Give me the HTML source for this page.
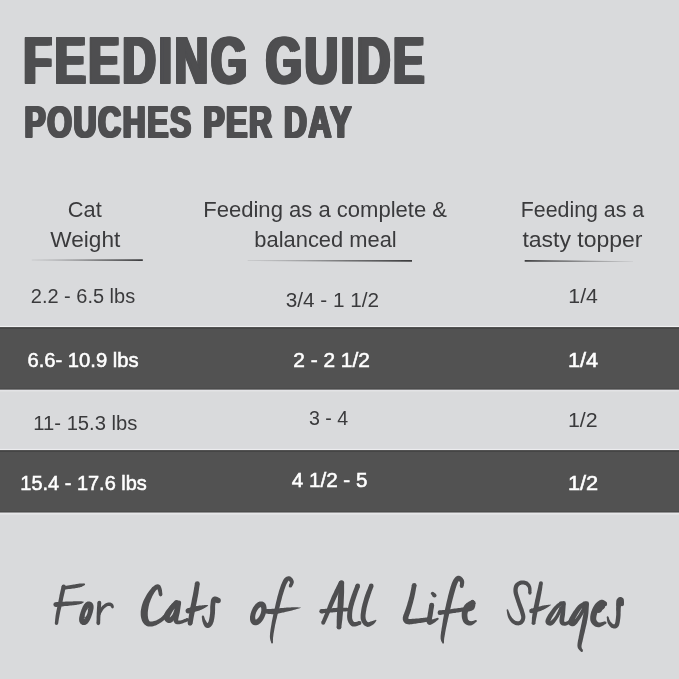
<!DOCTYPE html>
<html>
<head>
<meta charset="utf-8">
<title>Feeding Guide</title>
<style>
html,body{margin:0;padding:0;background:#d9dadc;}
body{width:679px;height:679px;overflow:hidden;font-family:"Liberation Sans",sans-serif;}
svg{display:block;}
text{font-family:"Liberation Sans",sans-serif;}
.t{fill:#3a3a3c;}.t.bd{fill:#4e4e50;}
.w{fill:#ffffff;stroke:#ffffff;stroke-width:0.55px;}
.bd{font-weight:bold;}
</style>
</head>
<body>
<svg width="679" height="679" viewBox="0 0 679 679" style="will-change:transform">
<defs>
<linearGradient id="gL" x1="0" x2="1" y1="0" y2="0"><stop offset="0" stop-color="#444446" stop-opacity="0.2"/><stop offset="0.6" stop-color="#444446" stop-opacity="0.85"/><stop offset="1" stop-color="#3c3c3e" stop-opacity="1"/></linearGradient>
<linearGradient id="gR" x1="0" x2="1" y1="0" y2="0"><stop offset="0" stop-color="#3c3c3e" stop-opacity="1"/><stop offset="0.4" stop-color="#444446" stop-opacity="0.8"/><stop offset="1" stop-color="#444446" stop-opacity="0.12"/></linearGradient>
</defs>
<rect x="0" y="325.9" width="679" height="1.4" fill="#efeff0"/>
<rect x="0" y="327.3" width="679" height="62.4" fill="#525252"/>
<rect x="0" y="327.3" width="679" height="1.4" fill="#404040"/>
<rect x="0" y="388.7" width="679" height="1.0" fill="#404040"/>
<rect x="0" y="389.7" width="679" height="1.1" fill="#e8e8ea"/>
<rect x="0" y="390.8" width="679" height="1.0" fill="#dfe0e2"/>
<rect x="0" y="448.9" width="679" height="1.4" fill="#ececee"/>
<rect x="0" y="450.3" width="679" height="62.3" fill="#525252"/>
<rect x="0" y="450.3" width="679" height="1.4" fill="#404040"/>
<rect x="0" y="511.6" width="679" height="1.0" fill="#404040"/>
<rect x="0" y="512.6" width="679" height="1.3" fill="#e8e8ea"/>
<rect x="0" y="513.9" width="679" height="1.2" fill="#e0e1e3"/>
<polygon points="31.8,259.8 142.8,259.2 142.8,260.9 31.8,260.3" fill="url(#gL)"/>
<polygon points="247.7,260.5 412,259.9 412,261.8 247.7,261.0" fill="url(#gL)"/>
<polygon points="524.7,260.0 633,261.2 633,261.7 524.7,261.7" fill="url(#gR)"/>
<text class="t bd" font-size="66.23" letter-spacing="4.350" transform="translate(21.81 83.10) scale(0.6970 1)">FEEDING GUIDE</text>
<text class="t bd" font-size="66.23" letter-spacing="4.350" transform="translate(21.81 84.40) scale(0.6970 1)">FEEDING GUIDE</text>
<text class="t bd" font-size="66.23" letter-spacing="4.350" transform="translate(23.61 83.10) scale(0.6970 1)">FEEDING GUIDE</text>
<text class="t bd" font-size="66.23" letter-spacing="4.350" transform="translate(23.61 84.40) scale(0.6970 1)">FEEDING GUIDE</text>
<text class="t bd" font-size="66.23" letter-spacing="4.350" transform="translate(25.41 83.10) scale(0.6970 1)">FEEDING GUIDE</text>
<text class="t bd" font-size="66.23" letter-spacing="4.350" transform="translate(25.41 84.40) scale(0.6970 1)">FEEDING GUIDE</text>
<text class="t bd" font-size="43.77" letter-spacing="2.332" transform="translate(23.15 137.10) scale(0.7238 1)">POUCHES PER DAY</text>
<text class="t bd" font-size="43.77" letter-spacing="2.332" transform="translate(23.15 137.90) scale(0.7238 1)">POUCHES PER DAY</text>
<text class="t bd" font-size="43.77" letter-spacing="2.332" transform="translate(24.45 137.10) scale(0.7238 1)">POUCHES PER DAY</text>
<text class="t bd" font-size="43.77" letter-spacing="2.332" transform="translate(24.45 137.90) scale(0.7238 1)">POUCHES PER DAY</text>
<text class="t bd" font-size="43.77" letter-spacing="2.332" transform="translate(25.75 137.10) scale(0.7238 1)">POUCHES PER DAY</text>
<text class="t bd" font-size="43.77" letter-spacing="2.332" transform="translate(25.75 137.90) scale(0.7238 1)">POUCHES PER DAY</text>
<text class="t" font-size="21.16" transform="translate(67.87 217.00) scale(1.0305 1)">Cat</text>
<text class="t" font-size="21.16" transform="translate(50.30 247.20) scale(1.0696 1)">Weight</text>
<text class="t" font-size="21.16" transform="translate(203.26 217.00) scale(1.0419 1)">Feeding as a complete &amp;</text>
<text class="t" font-size="21.16" transform="translate(254.37 247.20) scale(1.0345 1)">balanced meal</text>
<text class="t" font-size="21.16" transform="translate(520.79 217.00) scale(1.0093 1)">Feeding as a</text>
<text class="t" font-size="21.16" transform="translate(522.40 247.20) scale(1.0867 1)">tasty topper</text>
<text class="t" font-size="20.43" transform="translate(30.82 303.40) scale(0.9782 1)">2.2 - 6.5 lbs</text>
<text class="t" font-size="20.43" transform="translate(285.70 307.10) scale(1.0164 1)">3/4 - 1 1/2</text>
<text class="t" font-size="20.43" transform="translate(568.36 303.40) scale(1.0432 1)">1/4</text>
<text class="w" font-size="20.43" transform="translate(27.41 366.80) scale(0.9894 1)">6.6- 10.9 lbs</text>
<text class="w" font-size="20.43" transform="translate(293.28 366.80) scale(1.0222 1)">2 - 2 1/2</text>
<text class="w" font-size="20.43" transform="translate(567.93 366.80) scale(1.0654 1)">1/4</text>
<text class="t" font-size="20.43" transform="translate(33.31 429.70) scale(0.9895 1)">11- 15.3 lbs</text>
<text class="t" font-size="20.43" transform="translate(308.90 425.20) scale(0.9604 1)">3 - 4</text>
<text class="t" font-size="20.43" transform="translate(567.95 426.90) scale(1.0469 1)">1/2</text>
<text class="w" font-size="20.43" transform="translate(20.32 489.80) scale(0.9781 1)">15.4 - 17.6 lbs</text>
<text class="w" font-size="20.43" transform="translate(291.70 487.00) scale(1.0111 1)">4 1/2 - 5</text>
<text class="w" font-size="20.43" transform="translate(567.93 489.80) scale(1.0654 1)">1/2</text>
<g fill="#4e4e50">
<path d="M61.6,586.3 61.4,586.9 61.3,587.6 61.1,588.5 60.8,589.4 60.6,590.5 60.3,591.7 60.1,592.8 59.8,594.0 59.5,595.3 59.3,596.7 59.0,598.2 58.7,599.7 58.4,601.2 58.1,602.7 57.8,604.1 57.5,605.4 57.3,606.6 57.1,607.7 56.9,608.7 56.7,609.7 56.5,610.6 56.3,611.6 56.1,612.7 55.9,613.7 55.7,615.0 55.5,616.3 55.4,617.6 55.2,619.0 55.1,620.3 55.0,621.4 54.9,622.4 54.8,623.1 58.1,623.6 58.3,622.9 58.4,621.9 58.6,620.8 58.8,619.5 59.0,618.2 59.3,616.8 59.5,615.6 59.7,614.4 59.9,613.4 60.1,612.4 60.3,611.5 60.5,610.5 60.8,609.5 61.0,608.5 61.3,607.4 61.5,606.3 61.8,605.0 62.1,603.6 62.5,602.1 62.8,600.6 63.1,599.1 63.4,597.6 63.7,596.2 64.0,595.0 64.3,593.8 64.6,592.6 64.8,591.5 65.0,590.4 65.3,589.4 65.5,588.6 65.6,587.8 65.8,587.2Z"/>
<path d="M61.52,586.76 a2.15,2.15 0 1,0 4.31,0 a2.15,2.15 0 1,0 -4.31,0Z"/>
<path d="M54.75,623.36 a1.70,1.70 0 1,0 3.40,0 a1.70,1.70 0 1,0 -3.40,0Z"/>
<path d="M63.7,589.7 64.5,589.6 65.7,589.4 67.0,589.3 68.5,589.1 70.0,588.9 71.5,588.7 72.9,588.5 74.1,588.4 75.1,588.2 76.1,588.1 77.0,587.9 77.9,587.8 78.7,587.6 79.4,587.5 80.1,587.3 80.8,587.1 81.5,586.9 82.1,586.6 82.6,586.3 83.1,586.0 83.6,585.8 83.9,585.5 84.2,585.3 84.5,585.2 84.1,583.6 83.8,583.6 83.4,583.6 83.0,583.6 82.5,583.5 81.9,583.5 81.4,583.5 80.8,583.5 80.1,583.5 79.5,583.6 78.7,583.7 78.0,583.8 77.2,583.9 76.4,584.1 75.5,584.2 74.5,584.4 73.5,584.5 72.3,584.7 70.9,585.0 69.4,585.2 67.9,585.5 66.5,585.8 65.1,586.0 64.0,586.2 63.2,586.3Z"/>
<path d="M61.76,588.00 a1.70,1.70 0 1,0 3.40,0 a1.70,1.70 0 1,0 -3.40,0Z"/>
<path d="M83.49,584.39 a0.79,0.79 0 1,0 1.59,0 a0.79,0.79 0 1,0 -1.59,0Z"/>
<path d="M55.9,607.0 56.5,606.9 57.3,606.8 58.1,606.8 59.1,606.7 60.2,606.6 61.4,606.5 62.5,606.4 63.6,606.2 64.8,606.1 66.1,606.0 67.4,605.9 68.8,605.7 70.2,605.6 71.5,605.5 72.8,605.3 73.9,605.2 75.0,605.0 76.0,604.9 77.0,604.7 77.9,604.6 78.8,604.4 79.6,604.2 80.3,604.1 81.0,603.9 81.5,603.7 82.0,603.5 82.4,603.3 82.8,603.0 83.1,602.8 83.3,602.6 83.5,602.5 83.6,602.4 83.5,601.7 83.3,601.6 83.0,601.6 82.8,601.5 82.4,601.4 82.1,601.4 81.7,601.3 81.2,601.2 80.6,601.2 80.0,601.2 79.2,601.2 78.4,601.2 77.6,601.2 76.7,601.2 75.7,601.3 74.7,601.3 73.6,601.3 72.5,601.4 71.2,601.4 69.9,601.5 68.5,601.5 67.1,601.6 65.8,601.6 64.5,601.7 63.3,601.7 62.1,601.8 61.0,601.8 59.8,601.9 58.8,602.0 57.8,602.1 56.9,602.1 56.1,602.2 55.5,602.2Z"/>
<path d="M53.35,604.60 a2.38,2.38 0 1,0 4.76,0 a2.38,2.38 0 1,0 -4.76,0Z"/>
<path d="M83.23,602.02 a0.34,0.34 0 1,0 0.68,0 a0.34,0.34 0 1,0 -0.68,0Z"/>
<path fill-rule="evenodd" d="M87.3,613.6 87.2,613.9 87.0,614.3 86.9,614.7 86.7,615.0 86.5,615.4 86.4,615.7 86.2,616.0 86.0,616.3 85.8,616.6 85.6,616.8 85.4,617.1 85.2,617.3 85.0,617.6 84.7,617.8 84.6,618.0 84.4,618.1 84.2,618.2 84.0,618.4 83.9,618.4 83.7,618.5 83.6,618.6 83.5,618.6 83.4,618.6 83.4,618.6 83.4,618.5 83.4,618.5 83.5,618.4 83.7,618.4 83.8,618.3 84.0,618.3 84.3,618.4 84.6,618.4 84.8,618.5 85.1,618.7 85.2,618.8 85.3,618.9 85.4,619.1 85.4,619.1 85.4,619.2 85.4,619.3 85.4,619.3 85.3,619.2 85.3,619.1 85.2,619.0 85.1,618.9 85.0,618.7 85.0,618.5 84.9,618.3 84.9,618.1 84.8,617.8 84.8,617.5 84.8,617.2 84.7,616.9 84.7,616.6 84.7,616.2 84.8,615.9 84.8,615.5 84.8,615.2 84.9,614.8 85.0,614.4 85.1,614.0 85.2,613.7 85.3,613.3 85.4,612.9 85.5,612.6 85.7,612.2 85.8,611.9 86.0,611.5 86.2,611.2 86.3,610.8 86.5,610.5 86.7,610.2 86.9,609.9 87.1,609.7 87.3,609.4 87.5,609.2 87.7,608.9 88.0,608.7 88.1,608.6 88.3,608.4 88.5,608.3 88.7,608.2 88.8,608.1 89.0,608.0 89.1,608.0 89.2,607.9 89.3,607.9 89.3,608.0 89.3,608.0 89.3,608.0 89.2,608.1 89.0,608.1 88.9,608.2 88.7,608.2 88.4,608.2 88.1,608.1 87.9,608.0 87.6,607.8 87.5,607.7 87.4,607.6 87.3,607.5 87.3,607.4 87.3,607.3 87.3,607.2 87.3,607.2 87.4,607.3 87.4,607.4 87.5,607.5 87.6,607.6 87.7,607.8 87.7,608.0 87.8,608.2 87.8,608.4 87.9,608.7 87.9,609.0 87.9,609.3 88.0,609.6 88.0,610.0 88.0,610.3 87.9,610.6 87.9,611.0 87.9,611.3 87.8,611.7 87.7,612.1 87.6,612.5 87.5,612.9 87.4,613.2Z M92.0,614.7 92.1,614.2 92.3,613.8 92.4,613.3 92.5,612.9 92.7,612.4 92.8,612.0 92.9,611.5 93.0,611.1 93.1,610.6 93.2,610.2 93.3,609.7 93.4,609.3 93.5,608.9 93.5,608.4 93.6,608.0 93.6,607.6 93.6,607.2 93.6,606.7 93.6,606.3 93.5,605.9 93.5,605.5 93.4,605.1 93.2,604.6 93.0,604.2 92.8,603.8 92.6,603.3 92.2,602.9 91.9,602.6 91.4,602.2 90.9,601.9 90.3,601.7 89.7,601.5 89.2,601.4 88.6,601.4 88.1,601.5 87.6,601.6 87.1,601.8 86.7,602.0 86.2,602.2 85.9,602.5 85.5,602.8 85.2,603.0 84.9,603.4 84.7,603.7 84.4,604.0 84.1,604.3 83.9,604.7 83.7,605.0 83.4,605.4 83.2,605.8 83.0,606.2 82.8,606.6 82.6,607.0 82.4,607.4 82.2,607.8 82.1,608.3 81.9,608.7 81.7,609.1 81.5,609.6 81.4,610.0 81.2,610.5 81.0,610.9 80.9,611.4 80.7,611.8 80.6,612.3 80.4,612.7 80.3,613.2 80.2,613.7 80.0,614.1 79.9,614.6 79.8,615.0 79.7,615.4 79.6,615.9 79.5,616.3 79.4,616.8 79.3,617.2 79.2,617.6 79.2,618.1 79.1,618.5 79.1,618.9 79.1,619.4 79.1,619.8 79.1,620.2 79.2,620.6 79.2,621.0 79.3,621.5 79.5,621.9 79.7,622.3 79.9,622.8 80.1,623.2 80.5,623.6 80.8,624.0 81.3,624.3 81.8,624.6 82.4,624.9 83.0,625.0 83.5,625.1 84.1,625.1 84.6,625.0 85.1,624.9 85.6,624.7 86.0,624.5 86.5,624.3 86.8,624.0 87.2,623.8 87.5,623.5 87.8,623.2 88.0,622.8 88.3,622.5 88.6,622.2 88.8,621.8 89.0,621.5 89.3,621.1 89.5,620.7 89.7,620.3 89.9,619.9 90.1,619.5 90.3,619.1 90.5,618.7 90.6,618.3 90.8,617.8 91.0,617.4 91.2,616.9 91.3,616.5 91.5,616.0 91.7,615.6 91.8,615.1Z"/>
<path d="M97.4,602.6 97.4,603.3 97.3,604.2 97.2,605.3 97.1,606.5 97.0,607.9 96.9,609.2 96.9,610.6 96.8,611.9 96.7,613.3 96.7,614.9 96.6,616.6 96.6,618.2 96.6,619.8 96.5,621.2 96.5,622.4 96.5,623.3 100.1,623.4 100.2,622.5 100.2,621.3 100.3,619.9 100.3,618.3 100.4,616.7 100.5,615.0 100.6,613.5 100.6,612.1 100.7,610.8 100.8,609.5 100.9,608.1 101.0,606.8 101.1,605.6 101.1,604.5 101.2,603.6 101.3,602.9Z"/>
<path d="M97.41,602.74 a1.93,1.93 0 1,0 3.86,0 a1.93,1.93 0 1,0 -3.86,0Z"/>
<path d="M96.49,623.36 a1.81,1.81 0 1,0 3.63,0 a1.81,1.81 0 1,0 -3.63,0Z"/>
<path d="M100.3,614.8 100.6,614.3 101.0,613.6 101.4,612.8 101.9,611.9 102.4,611.1 102.9,610.2 103.4,609.5 103.8,608.9 104.3,608.4 104.9,607.9 105.5,607.5 106.2,607.0 106.8,606.6 107.4,606.3 107.9,606.1 108.3,605.9 108.6,605.9 108.8,605.9 109.1,605.9 109.4,606.0 109.7,606.1 110.0,606.2 110.3,606.3 110.5,606.4 110.5,606.4 110.6,606.4 110.7,606.5 110.8,606.6 111.0,606.8 111.1,607.1 111.3,607.3 111.4,607.6 113.7,606.6 113.7,606.5 113.7,606.3 113.6,605.9 113.6,605.5 113.4,605.1 113.2,604.6 112.8,604.0 112.3,603.6 111.9,603.3 111.5,603.1 110.9,602.8 110.3,602.6 109.6,602.5 108.9,602.4 108.1,602.5 107.3,602.7 106.5,603.0 105.8,603.3 105.0,603.8 104.3,604.3 103.5,604.9 102.8,605.5 102.1,606.1 101.4,606.9 100.8,607.7 100.2,608.6 99.7,609.5 99.2,610.5 98.7,611.4 98.3,612.2 98.0,612.9 97.7,613.4Z"/>
<path d="M97.56,614.08 a1.47,1.47 0 1,0 2.95,0 a1.47,1.47 0 1,0 -2.95,0Z"/>
<path d="M111.29,607.07 a1.25,1.25 0 1,0 2.49,0 a1.25,1.25 0 1,0 -2.49,0Z"/>
</g>
<g fill="#4e4e50">
<path d="M162.4,594.3 162.3,593.8 162.3,593.2 162.2,592.4 162.1,591.5 162.0,590.6 161.8,589.6 161.6,588.7 161.4,588.0 161.2,587.4 161.0,586.9 160.7,586.3 160.3,585.6 159.7,585.0 158.8,584.4 157.6,584.2 156.5,584.4 155.6,584.7 154.9,585.2 154.1,585.7 153.3,586.4 152.4,587.1 151.6,588.0 150.8,588.9 150.0,589.9 149.2,591.0 148.3,592.2 147.4,593.6 146.5,595.0 145.7,596.4 144.9,597.9 144.1,599.4 143.5,600.8 142.9,602.3 142.4,603.7 142.0,605.1 141.6,606.6 141.3,608.0 141.0,609.4 140.8,610.8 140.7,612.1 140.7,613.4 140.7,614.7 140.8,616.0 141.0,617.2 141.3,618.5 141.6,619.6 142.0,620.7 142.5,621.8 143.1,622.7 143.7,623.6 144.5,624.4 145.3,625.1 146.2,625.7 147.3,626.2 148.4,626.5 149.6,626.6 150.8,626.6 152.0,626.5 153.2,626.2 154.4,625.8 155.6,625.4 156.7,624.9 157.9,624.3 159.0,623.7 160.0,623.1 161.0,622.5 162.0,621.8 163.0,621.0 163.9,620.2 164.9,619.3 165.8,618.3 166.8,617.3 167.8,616.1 168.8,614.7 169.9,613.2 170.9,611.8 171.8,610.3 172.7,609.0 173.5,607.8 174.2,606.9 174.8,606.1 175.4,605.5 175.9,605.0 176.3,604.6 176.7,604.3 177.1,604.0 177.4,603.7 177.7,603.4 175.1,600.6 174.8,600.8 174.6,601.0 174.2,601.3 173.7,601.7 173.2,602.2 172.6,602.9 171.9,603.6 171.2,604.5 170.4,605.5 169.5,606.8 168.6,608.2 167.7,609.6 166.7,611.0 165.7,612.4 164.8,613.6 163.9,614.7 163.0,615.6 162.2,616.4 161.3,617.2 160.5,617.9 159.6,618.5 158.8,619.0 157.9,619.5 157.0,620.0 156.1,620.4 155.1,620.8 154.1,621.1 153.1,621.3 152.2,621.5 151.3,621.6 150.7,621.6 150.2,621.5 149.9,621.4 149.6,621.2 149.4,621.0 149.2,620.7 149.0,620.4 148.8,620.0 148.6,619.5 148.4,619.0 148.2,618.5 148.1,617.8 148.0,617.1 147.9,616.3 147.8,615.4 147.8,614.4 147.8,613.5 147.8,612.5 147.9,611.5 148.0,610.4 148.2,609.2 148.4,608.0 148.6,606.8 148.9,605.6 149.2,604.3 149.5,603.1 150.0,601.9 150.5,600.5 151.1,599.1 151.7,597.7 152.3,596.3 153.0,595.0 153.6,593.9 154.2,592.9 154.8,592.0 155.4,591.2 155.9,590.5 156.5,589.9 157.0,589.4 157.5,589.0 157.8,588.8 158.0,588.7 157.8,588.7 157.3,588.6 156.9,588.4 156.9,588.3 156.9,588.4 157.1,588.6 157.3,589.1 157.5,589.5 157.7,589.9 157.9,590.5 158.1,591.3 158.3,592.1 158.5,593.0 158.6,593.8 158.8,594.4 158.9,594.9Z"/>
<path d="M158.85,594.62 a1.78,1.78 0 1,0 3.56,0 a1.78,1.78 0 1,0 -3.56,0Z"/>
<path d="M174.45,601.98 a1.94,1.94 0 1,0 3.89,0 a1.94,1.94 0 1,0 -3.89,0Z"/>
<path d="M175.7,601.2 175.2,601.6 174.5,602.1 173.7,602.7 172.8,603.4 171.8,604.2 170.9,605.1 169.9,606.0 169.1,606.9 168.3,607.9 167.5,608.9 166.7,610.0 165.9,611.1 165.2,612.2 164.6,613.4 164.1,614.6 163.8,616.0 163.7,617.4 164.0,618.7 164.5,619.9 165.2,620.9 166.0,621.8 167.0,622.5 168.2,623.0 169.7,623.1 171.0,622.7 172.0,622.1 172.8,621.4 173.6,620.6 174.4,619.7 175.1,618.7 175.8,617.7 176.5,616.6 177.0,615.4 177.6,614.0 178.1,612.4 178.6,610.9 179.0,609.5 179.3,608.1 179.6,607.1 179.9,606.3 175.9,605.0 175.6,605.8 175.2,607.0 174.9,608.2 174.4,609.6 173.9,611.1 173.4,612.4 173.0,613.6 172.5,614.4 172.0,615.2 171.4,615.9 170.8,616.6 170.2,617.2 169.7,617.7 169.2,618.0 169.0,618.1 169.2,618.0 169.7,617.9 170.0,618.0 170.0,617.9 169.9,617.7 169.9,617.4 169.8,617.1 169.8,616.9 169.9,616.9 169.9,616.6 170.2,615.9 170.6,615.1 171.1,614.2 171.6,613.2 172.2,612.1 172.8,611.2 173.4,610.3 174.0,609.5 174.6,608.7 175.4,607.8 176.1,606.9 176.9,606.1 177.5,605.4 178.1,604.7 178.6,604.2Z"/>
<path d="M175.02,602.72 a2.11,2.11 0 1,0 4.21,0 a2.11,2.11 0 1,0 -4.21,0Z"/>
<path d="M175.76,605.66 a2.11,2.11 0 1,0 4.21,0 a2.11,2.11 0 1,0 -4.21,0Z"/>
<path d="M176.7,602.4 176.5,603.1 176.4,604.1 176.2,605.3 176.0,606.6 175.8,608.0 175.6,609.4 175.4,610.7 175.2,611.9 175.0,613.0 174.7,614.1 174.4,615.3 174.1,616.6 173.8,617.8 173.6,618.9 173.6,620.1 173.7,621.4 174.3,622.5 175.0,623.4 176.0,624.0 177.0,624.2 177.8,624.3 178.7,624.3 179.5,624.2 180.3,624.1 181.3,623.8 182.4,623.5 183.5,623.1 184.6,622.6 185.7,622.2 186.7,621.7 187.5,621.4 188.0,621.2 186.8,618.1 186.2,618.4 185.4,618.7 184.4,619.1 183.4,619.5 182.3,619.9 181.3,620.2 180.5,620.5 179.8,620.5 179.2,620.5 178.7,620.5 178.2,620.4 178.0,620.3 177.9,620.2 178.0,620.2 178.1,620.3 178.2,620.3 178.2,620.1 178.2,619.5 178.4,618.6 178.6,617.6 178.8,616.4 179.1,615.2 179.4,613.9 179.7,612.7 179.9,611.4 180.1,610.1 180.3,608.7 180.5,607.3 180.7,606.0 180.9,604.8 181.0,603.8 181.1,603.1Z"/>
<path d="M176.63,602.72 a2.27,2.27 0 1,0 4.54,0 a2.27,2.27 0 1,0 -4.54,0Z"/>
<path d="M185.82,619.66 a1.62,1.62 0 1,0 3.24,0 a1.62,1.62 0 1,0 -3.24,0Z"/>
<path d="M194.9,583.2 194.8,584.0 194.6,585.1 194.4,586.4 194.1,587.8 193.9,589.3 193.6,590.9 193.3,592.5 193.0,594.2 192.7,595.8 192.3,597.5 191.9,599.4 191.6,601.3 191.2,603.2 190.8,605.1 190.4,607.0 190.0,608.9 189.7,610.8 189.4,612.8 189.0,614.8 188.7,616.8 188.4,618.7 188.1,620.4 187.9,621.8 187.7,622.9 192.5,623.8 192.7,622.7 193.0,621.3 193.3,619.6 193.6,617.7 194.0,615.7 194.4,613.7 194.8,611.7 195.1,609.8 195.5,608.0 195.9,606.1 196.3,604.2 196.7,602.3 197.1,600.4 197.4,598.6 197.8,596.8 198.1,595.1 198.4,593.4 198.6,591.8 198.9,590.1 199.1,588.6 199.3,587.1 199.5,585.8 199.6,584.8 199.7,583.9Z"/>
<path d="M194.87,583.57 a2.43,2.43 0 1,0 4.86,0 a2.43,2.43 0 1,0 -4.86,0Z"/>
<path d="M187.66,623.34 a2.43,2.43 0 1,0 4.86,0 a2.43,2.43 0 1,0 -4.86,0Z"/>
<path d="M188.8,613.3 189.4,613.2 190.3,613.0 191.3,612.7 192.5,612.5 193.6,612.2 194.8,611.9 195.9,611.6 196.9,611.3 197.8,611.0 198.7,610.7 199.6,610.4 200.4,610.0 201.2,609.7 201.9,609.4 202.7,609.0 203.4,608.7 204.1,608.3 204.8,608.0 205.4,607.6 206.0,607.2 206.6,606.8 207.0,606.5 207.4,606.2 207.8,606.0 207.5,605.1 207.1,605.1 206.6,605.1 206.0,605.1 205.3,605.1 204.6,605.1 203.9,605.2 203.1,605.2 202.4,605.3 201.7,605.4 200.9,605.4 200.1,605.5 199.2,605.6 198.4,605.8 197.5,605.9 196.5,606.1 195.6,606.2 194.6,606.5 193.5,606.7 192.3,607.0 191.2,607.3 190.0,607.6 189.0,607.9 188.2,608.1 187.5,608.3Z"/>
<path d="M185.58,610.82 a2.59,2.59 0 1,0 5.18,0 a2.59,2.59 0 1,0 -5.18,0Z"/>
<path d="M207.13,605.52 a0.49,0.49 0 1,0 0.97,0 a0.49,0.49 0 1,0 -0.97,0Z"/>
<path d="M219.2,598.0 219.0,597.9 218.6,597.7 218.1,597.5 217.4,597.1 216.6,596.8 215.5,596.6 214.2,596.6 212.7,597.3 211.8,598.3 211.3,599.2 211.0,600.1 210.8,601.0 210.7,601.9 210.6,602.8 210.5,603.7 210.4,604.7 210.3,605.7 210.2,606.9 210.2,608.0 210.2,609.1 210.2,610.3 210.2,611.4 210.1,612.5 210.1,613.5 209.9,614.6 209.8,615.8 209.6,616.9 209.4,618.1 209.2,619.2 208.9,620.2 208.7,621.0 208.5,621.7 208.2,622.2 208.0,622.6 207.7,623.0 207.5,623.3 207.3,623.5 207.2,623.6 207.3,623.6 207.7,623.6 208.0,623.8 208.0,623.8 207.8,623.6 207.4,623.3 207.1,622.8 206.7,622.2 206.3,621.6 206.0,621.1 205.7,620.6 205.4,620.0 205.1,619.4 204.8,618.7 204.6,618.0 204.4,617.4 204.2,616.8 204.0,616.4 201.8,617.0 201.9,617.4 201.9,617.9 202.0,618.6 202.1,619.4 202.2,620.2 202.3,621.0 202.5,621.8 202.8,622.6 203.0,623.3 203.3,624.0 203.6,624.8 204.0,625.5 204.5,626.2 205.0,627.0 205.8,627.6 207.0,628.1 208.2,628.1 209.2,627.8 210.0,627.3 210.7,626.8 211.4,626.1 212.0,625.3 212.5,624.5 212.9,623.5 213.3,622.5 213.7,621.4 213.9,620.2 214.2,619.0 214.4,617.7 214.6,616.4 214.7,615.2 214.9,614.0 215.0,612.8 215.0,611.5 215.1,610.3 215.1,609.1 215.1,608.0 215.1,607.0 215.1,606.0 215.2,605.2 215.3,604.3 215.4,603.5 215.6,602.7 215.7,602.0 215.9,601.5 216.0,601.2 216.1,601.1 215.8,601.4 215.1,601.7 214.7,601.8 214.8,601.8 215.1,602.0 215.6,602.2 216.0,602.5 216.5,602.8 217.0,603.0Z"/>
<path d="M215.32,600.51 a2.75,2.75 0 1,0 5.51,0 a2.75,2.75 0 1,0 -5.51,0Z"/>
<path d="M201.77,616.71 a1.13,1.13 0 1,0 2.27,0 a1.13,1.13 0 1,0 -2.27,0Z"/>
</g>
<g fill="#4e4e50">
<path fill-rule="evenodd" d="M260.3,614.2 260.2,614.6 260.0,614.9 259.8,615.3 259.6,615.7 259.4,616.0 259.2,616.4 259.0,616.7 258.8,617.0 258.6,617.3 258.4,617.6 258.1,617.9 257.9,618.1 257.7,618.4 257.4,618.6 257.2,618.8 257.0,619.0 256.8,619.1 256.6,619.2 256.4,619.4 256.2,619.5 256.1,619.5 255.9,619.6 255.8,619.6 255.7,619.7 255.7,619.7 255.6,619.7 255.6,619.7 255.6,619.6 255.6,619.6 255.6,619.6 255.6,619.6 255.7,619.7 255.8,619.7 255.8,619.7 255.8,619.8 255.8,619.8 255.8,619.8 255.8,619.7 255.8,619.7 255.7,619.7 255.7,619.6 255.6,619.5 255.5,619.3 255.5,619.2 255.4,619.0 255.4,618.7 255.3,618.5 255.3,618.3 255.2,618.0 255.2,617.7 255.2,617.4 255.2,617.0 255.2,616.7 255.2,616.3 255.3,616.0 255.3,615.6 255.4,615.2 255.5,614.9 255.5,614.5 255.7,614.1 255.8,613.7 255.9,613.3 256.0,612.9 256.2,612.5 256.3,612.1 256.5,611.8 256.7,611.4 256.9,611.0 257.1,610.7 257.3,610.3 257.5,610.0 257.7,609.7 257.9,609.4 258.2,609.1 258.4,608.8 258.6,608.6 258.9,608.3 259.1,608.1 259.3,607.9 259.5,607.7 259.7,607.6 259.9,607.5 260.1,607.4 260.3,607.3 260.5,607.2 260.6,607.1 260.7,607.1 260.8,607.1 260.9,607.1 260.9,607.1 261.0,607.1 261.0,607.1 261.0,607.1 260.9,607.1 260.9,607.1 260.8,607.0 260.7,607.0 260.7,607.0 260.7,607.0 260.7,607.0 260.7,607.0 260.7,607.0 260.8,607.0 260.8,607.1 260.9,607.1 260.9,607.2 261.0,607.4 261.0,607.6 261.1,607.8 261.2,608.0 261.2,608.2 261.3,608.5 261.3,608.7 261.3,609.0 261.3,609.3 261.3,609.7 261.3,610.0 261.3,610.4 261.3,610.7 261.2,611.1 261.1,611.5 261.1,611.8 261.0,612.2 260.9,612.6 260.8,613.0 260.6,613.4 260.5,613.8Z M265.1,615.6 265.3,615.1 265.5,614.6 265.6,614.0 265.8,613.5 265.9,613.0 266.0,612.5 266.2,612.0 266.3,611.5 266.3,611.0 266.4,610.5 266.5,610.0 266.5,609.5 266.6,609.0 266.6,608.6 266.6,608.1 266.5,607.6 266.5,607.1 266.4,606.7 266.3,606.2 266.2,605.8 266.1,605.3 265.9,604.9 265.8,604.5 265.5,604.0 265.3,603.6 265.0,603.2 264.6,602.9 264.3,602.6 263.9,602.2 263.4,602.0 262.9,601.8 262.4,601.6 261.9,601.5 261.4,601.4 260.9,601.4 260.5,601.4 260.0,601.5 259.5,601.6 259.1,601.8 258.6,601.9 258.2,602.1 257.8,602.4 257.4,602.6 257.0,602.9 256.7,603.2 256.3,603.5 256.0,603.8 255.6,604.1 255.3,604.5 255.0,604.9 254.7,605.3 254.4,605.7 254.1,606.1 253.8,606.5 253.5,606.9 253.2,607.3 253.0,607.8 252.7,608.3 252.5,608.7 252.3,609.2 252.0,609.7 251.8,610.2 251.6,610.7 251.4,611.2 251.2,611.7 251.1,612.2 250.9,612.7 250.7,613.2 250.6,613.7 250.5,614.2 250.4,614.7 250.3,615.2 250.2,615.7 250.1,616.2 250.0,616.7 250.0,617.2 250.0,617.7 250.0,618.2 250.0,618.6 250.0,619.1 250.0,619.6 250.1,620.0 250.2,620.5 250.3,620.9 250.4,621.4 250.6,621.8 250.8,622.3 251.0,622.7 251.3,623.1 251.6,623.5 251.9,623.8 252.3,624.2 252.7,624.5 253.1,624.7 253.6,625.0 254.1,625.1 254.6,625.2 255.1,625.3 255.6,625.3 256.1,625.3 256.5,625.2 257.0,625.1 257.5,625.0 257.9,624.8 258.3,624.6 258.7,624.4 259.1,624.1 259.5,623.8 259.9,623.5 260.2,623.2 260.6,622.9 260.9,622.6 261.2,622.2 261.6,621.8 261.9,621.5 262.2,621.1 262.5,620.7 262.7,620.2 263.0,619.8 263.3,619.4 263.5,618.9 263.8,618.5 264.0,618.0 264.3,617.5 264.5,617.0 264.7,616.5 264.9,616.0Z"/>
<path d="M266.4,613.6 267.0,613.6 267.7,613.7 268.6,613.9 269.7,614.0 270.8,614.1 272.0,614.2 273.2,614.2 274.3,614.2 275.4,614.1 276.5,614.0 277.6,613.8 278.6,613.6 279.6,613.3 280.7,613.1 281.7,612.8 282.8,612.6 283.9,612.4 285.0,612.1 286.2,611.8 287.4,611.6 288.6,611.3 289.8,611.0 290.9,610.7 292.1,610.4 293.2,610.1 294.4,609.8 295.6,609.4 296.8,609.1 297.9,608.8 298.9,608.5 299.7,608.2 300.4,608.0 300.3,607.4 299.6,607.4 298.7,607.4 297.7,607.3 296.6,607.3 295.3,607.3 294.1,607.3 292.8,607.3 291.6,607.3 290.5,607.4 289.3,607.5 288.0,607.5 286.8,607.6 285.6,607.7 284.4,607.8 283.2,607.9 282.1,608.0 280.9,608.1 279.8,608.2 278.8,608.3 277.8,608.4 276.8,608.5 275.8,608.6 274.9,608.7 274.0,608.8 273.1,608.8 272.1,608.8 271.0,608.9 270.0,608.9 268.9,608.9 268.0,608.9 267.2,608.9 266.6,608.9Z"/>
<path d="M264.18,611.24 a2.33,2.33 0 1,0 4.67,0 a2.33,2.33 0 1,0 -4.67,0Z"/>
<path d="M300.00,607.70 a0.32,0.32 0 1,0 0.65,0 a0.32,0.32 0 1,0 -0.65,0Z"/>
<path d="M292.0,586.6 292.1,586.3 292.3,585.9 292.6,585.4 293.0,584.8 293.3,584.1 293.6,583.3 293.8,582.4 293.8,581.4 293.5,580.5 293.2,579.8 292.8,579.0 292.3,578.3 291.7,577.7 291.0,577.1 290.2,576.6 289.2,576.3 288.3,576.3 287.5,576.4 286.7,576.7 285.9,577.1 285.2,577.7 284.5,578.3 283.9,579.1 283.3,580.0 282.8,581.1 282.2,582.2 281.7,583.5 281.1,584.8 280.6,586.3 280.1,587.8 279.5,589.4 279.0,591.1 278.5,592.9 278.0,594.8 277.4,596.8 276.9,598.9 276.4,601.0 275.9,603.1 275.4,605.2 275.0,607.2 274.5,609.1 274.1,611.1 273.6,613.1 273.2,615.1 272.8,617.0 272.4,618.9 272.0,620.8 271.7,622.6 271.4,624.4 271.1,626.2 270.8,628.0 270.5,629.8 270.3,631.4 270.1,633.0 270.0,634.5 269.9,635.9 269.9,637.1 270.0,638.3 270.2,639.3 270.4,640.2 270.6,641.0 270.9,641.6 271.0,642.1 271.1,642.6 272.9,642.4 273.0,641.9 272.9,641.3 272.9,640.6 273.0,639.9 273.0,639.1 273.0,638.2 273.1,637.2 273.3,636.1 273.4,634.9 273.6,633.5 273.9,632.0 274.2,630.3 274.5,628.6 274.8,626.9 275.1,625.1 275.5,623.4 275.9,621.6 276.3,619.8 276.8,617.9 277.2,616.0 277.7,614.1 278.2,612.1 278.7,610.2 279.3,608.2 279.8,606.2 280.3,604.2 280.8,602.1 281.4,600.0 281.9,598.0 282.4,596.0 283.0,594.2 283.5,592.5 284.0,590.9 284.5,589.3 285.0,587.9 285.5,586.5 286.0,585.3 286.5,584.1 287.0,583.2 287.4,582.4 287.8,581.7 288.1,581.3 288.3,581.0 288.5,580.8 288.6,580.8 288.7,580.7 288.7,580.7 288.6,580.7 288.5,580.6 288.5,580.6 288.8,580.8 289.1,581.1 289.4,581.4 289.7,581.7 289.9,582.0 289.9,582.1 290.0,582.1 289.9,582.4 289.8,582.8 289.7,583.3 289.5,583.9 289.2,584.4 289.0,584.9 288.9,585.2Z"/>
<path d="M288.74,585.91 a1.68,1.68 0 1,0 3.37,0 a1.68,1.68 0 1,0 -3.37,0Z"/>
<path d="M271.14,642.46 a0.91,0.91 0 1,0 1.81,0 a0.91,0.91 0 1,0 -1.81,0Z"/>
</g>
<g fill="#4e4e50">
<path d="M325.0,623.6 325.3,622.8 325.8,621.8 326.3,620.7 326.9,619.3 327.5,617.9 328.2,616.4 328.9,614.8 329.6,613.2 330.3,611.5 331.1,609.7 332.0,607.8 332.8,605.8 333.7,603.8 334.6,601.8 335.4,599.9 336.3,598.1 337.2,596.2 338.1,594.2 339.1,592.2 340.0,590.2 340.9,588.4 341.8,586.7 342.4,585.3 343.0,584.2 338.8,582.2 338.3,583.2 337.6,584.6 336.7,586.3 335.8,588.2 334.8,590.1 333.9,592.2 332.9,594.2 332.0,596.1 331.2,598.1 330.4,600.0 329.5,602.1 328.7,604.1 327.9,606.1 327.2,608.1 326.4,609.9 325.8,611.6 325.1,613.2 324.4,614.8 323.8,616.3 323.2,617.8 322.6,619.1 322.2,620.3 321.7,621.2 321.4,622.0Z"/>
<path d="M321.25,622.78 a1.94,1.94 0 1,0 3.89,0 a1.94,1.94 0 1,0 -3.89,0Z"/>
<path d="M338.54,583.20 a2.33,2.33 0 1,0 4.67,0 a2.33,2.33 0 1,0 -4.67,0Z"/>
<path d="M339.0,582.6 338.9,583.9 338.8,585.6 338.7,587.6 338.5,589.9 338.3,592.3 338.2,594.7 338.0,597.1 337.9,599.3 337.8,601.5 337.6,603.8 337.5,606.2 337.3,608.5 337.2,610.8 337.0,613.0 336.9,615.1 336.8,616.9 336.8,618.6 336.7,620.2 336.7,621.7 336.7,623.1 336.7,624.3 336.7,625.3 336.7,626.3 336.7,627.0 341.3,627.3 341.4,626.6 341.5,625.7 341.7,624.6 341.8,623.4 342.0,622.1 342.2,620.6 342.4,619.0 342.5,617.3 342.7,615.5 342.9,613.4 343.1,611.2 343.2,608.9 343.4,606.5 343.6,604.2 343.7,601.9 343.8,599.6 343.9,597.3 344.0,594.9 344.1,592.5 344.1,590.1 344.1,587.8 344.1,585.8 344.1,584.1 344.2,582.8Z"/>
<path d="M338.98,582.72 a2.59,2.59 0 1,0 5.18,0 a2.59,2.59 0 1,0 -5.18,0Z"/>
<path d="M336.65,627.14 a2.33,2.33 0 1,0 4.67,0 a2.33,2.33 0 1,0 -4.67,0Z"/>
<path d="M321.7,613.4 322.3,613.4 323.0,613.3 323.8,613.2 324.8,613.1 325.8,613.0 326.9,612.9 328.0,612.8 329.0,612.7 330.1,612.6 331.3,612.5 332.5,612.4 333.7,612.3 334.9,612.2 336.1,612.1 337.3,612.0 338.4,611.9 339.6,611.8 340.8,611.7 342.1,611.6 343.4,611.5 344.5,611.5 345.6,611.4 346.5,611.3 347.2,611.3 347.0,607.7 346.4,607.7 345.5,607.7 344.4,607.7 343.2,607.7 341.9,607.7 340.6,607.7 339.4,607.7 338.1,607.8 337.0,607.8 335.7,607.9 334.5,608.0 333.3,608.1 332.1,608.3 330.9,608.4 329.7,608.5 328.7,608.6 327.6,608.7 326.5,608.7 325.5,608.8 324.4,608.9 323.5,608.9 322.6,609.0 321.9,609.0 321.4,609.0Z"/>
<path d="M319.34,611.24 a2.20,2.20 0 1,0 4.41,0 a2.20,2.20 0 1,0 -4.41,0Z"/>
<path d="M345.30,609.47 a1.81,1.81 0 1,0 3.63,0 a1.81,1.81 0 1,0 -3.63,0Z"/>
<path d="M355.5,585.1 355.2,585.9 354.8,587.1 354.2,588.4 353.6,589.9 353.0,591.5 352.4,593.2 351.8,594.8 351.3,596.3 350.8,597.8 350.3,599.3 349.8,600.8 349.3,602.4 348.9,603.9 348.5,605.5 348.2,607.0 347.9,608.4 347.6,609.9 347.4,611.3 347.3,612.7 347.2,614.1 347.1,615.5 347.1,616.9 347.2,618.1 347.4,619.4 347.7,620.5 348.1,621.6 348.6,622.7 349.2,623.6 349.8,624.5 350.6,625.2 351.5,625.9 352.5,626.4 353.8,626.6 355.1,626.6 356.2,626.3 357.2,626.0 358.2,625.6 359.0,625.3 359.6,625.0 360.0,624.9 359.0,621.1 358.4,621.3 357.7,621.5 356.9,621.7 356.0,621.9 355.3,622.0 354.6,622.1 354.2,622.1 354.2,622.0 354.1,621.9 353.8,621.7 353.5,621.3 353.2,620.9 352.9,620.4 352.6,619.8 352.4,619.1 352.2,618.4 352.1,617.6 352.1,616.7 352.1,615.6 352.1,614.4 352.2,613.2 352.3,611.9 352.5,610.6 352.7,609.3 353.0,608.0 353.3,606.6 353.7,605.2 354.1,603.8 354.5,602.3 355.0,600.8 355.5,599.3 355.9,597.9 356.4,596.4 357.0,594.8 357.5,593.2 358.1,591.6 358.7,590.1 359.2,588.7 359.6,587.6 359.9,586.7Z"/>
<path d="M355.38,585.91 a2.33,2.33 0 1,0 4.67,0 a2.33,2.33 0 1,0 -4.67,0Z"/>
<path d="M357.54,623.02 a1.94,1.94 0 1,0 3.89,0 a1.94,1.94 0 1,0 -3.89,0Z"/>
<path d="M369.1,585.1 368.8,585.9 368.3,587.1 367.8,588.4 367.2,589.9 366.5,591.5 365.9,593.2 365.3,594.8 364.8,596.3 364.3,597.8 363.9,599.3 363.4,600.9 363.0,602.4 362.5,603.9 362.2,605.5 361.8,607.0 361.5,608.4 361.3,609.8 361.1,611.2 360.9,612.7 360.7,614.1 360.6,615.4 360.6,616.8 360.6,618.1 360.8,619.4 361.2,620.6 361.6,621.8 362.2,622.8 362.9,623.8 363.6,624.7 364.4,625.5 365.3,626.1 366.3,626.6 367.6,626.9 368.7,626.8 369.8,626.5 370.7,626.1 371.5,625.6 372.2,625.2 372.7,624.8 373.3,624.4 373.8,624.0 374.3,623.5 374.8,623.0 375.2,622.4 375.5,622.0 375.8,621.5 376.0,621.2 376.1,620.9 375.3,619.9 375.0,620.0 374.6,620.2 374.2,620.4 373.7,620.6 373.2,620.7 372.6,620.9 372.1,621.0 371.6,621.2 371.0,621.4 370.3,621.6 369.6,621.9 369.0,622.1 368.5,622.3 368.1,622.3 367.9,622.3 368.0,622.3 367.9,622.1 367.5,621.9 367.2,621.5 366.8,621.0 366.4,620.4 366.1,619.7 365.8,619.1 365.7,618.4 365.6,617.6 365.5,616.7 365.5,615.7 365.6,614.5 365.8,613.3 365.9,612.0 366.2,610.7 366.4,609.3 366.6,608.0 367.0,606.6 367.3,605.2 367.7,603.7 368.1,602.2 368.6,600.8 369.0,599.3 369.5,597.9 370.0,596.4 370.5,594.8 371.1,593.2 371.6,591.6 372.2,590.1 372.7,588.8 373.1,587.6 373.4,586.7Z"/>
<path d="M368.93,585.91 a2.33,2.33 0 1,0 4.67,0 a2.33,2.33 0 1,0 -4.67,0Z"/>
<path d="M375.10,620.43 a0.65,0.65 0 1,0 1.30,0 a0.65,0.65 0 1,0 -1.30,0Z"/>
</g>
<g fill="#4e4e50">
<path d="M411.9,584.8 411.8,585.7 411.5,586.8 411.3,588.1 411.0,589.6 410.6,591.2 410.3,592.8 409.9,594.4 409.6,595.9 409.1,597.5 408.7,599.2 408.2,600.9 407.7,602.6 407.2,604.4 406.7,606.0 406.2,607.6 405.7,609.0 405.3,610.2 404.9,611.3 404.5,612.3 404.1,613.4 403.6,614.4 403.3,615.4 403.0,616.4 402.8,617.5 402.8,618.4 402.8,619.4 403.0,620.3 403.4,621.3 404.0,622.3 404.8,623.1 405.7,623.7 406.8,624.1 408.0,624.3 409.2,624.4 410.4,624.3 411.6,624.2 412.9,624.0 414.1,623.8 415.3,623.7 416.5,623.5 417.7,623.3 419.0,623.1 420.4,622.9 421.8,622.7 423.2,622.5 424.5,622.3 425.6,622.1 426.5,621.9 427.3,621.7 428.0,621.5 428.6,621.3 429.0,621.1 429.4,621.0 429.7,620.8 429.8,620.7 429.9,620.7 428.5,616.9 428.2,616.9 428.0,617.1 427.8,617.1 427.6,617.2 427.3,617.3 426.9,617.4 426.4,617.5 425.8,617.6 424.9,617.7 423.8,617.8 422.5,618.0 421.2,618.1 419.8,618.2 418.5,618.4 417.2,618.5 416.0,618.6 414.8,618.7 413.5,618.8 412.3,618.8 411.2,618.9 410.2,618.9 409.3,618.9 408.7,618.9 408.4,618.8 408.2,618.7 408.3,618.7 408.4,618.8 408.4,618.9 408.4,618.9 408.4,618.7 408.4,618.4 408.4,618.0 408.4,617.5 408.5,616.9 408.8,616.2 409.1,615.3 409.5,614.3 409.9,613.2 410.3,611.9 410.8,610.5 411.2,609.1 411.6,607.5 412.1,605.8 412.6,604.0 413.1,602.2 413.5,600.5 414.0,598.7 414.4,597.1 414.7,595.5 415.1,593.8 415.4,592.1 415.7,590.5 415.9,589.0 416.2,587.6 416.4,586.5 416.5,585.7Z"/>
<path d="M411.89,585.24 a2.33,2.33 0 1,0 4.67,0 a2.33,2.33 0 1,0 -4.67,0Z"/>
<path d="M427.16,618.78 a2.04,2.04 0 1,0 4.08,0 a2.04,2.04 0 1,0 -4.08,0Z"/>
<path d="M429.3,604.7 429.1,605.5 429.0,606.6 428.8,607.8 428.5,609.2 428.3,610.7 428.1,612.1 427.8,613.5 427.7,614.7 427.5,615.7 427.3,616.8 427.1,617.9 426.9,619.0 426.7,620.0 426.7,621.1 426.7,622.2 427.2,623.5 428.6,624.7 430.1,624.9 431.1,624.6 431.9,624.3 432.6,623.8 433.2,623.4 433.8,623.1 434.2,622.8 434.8,622.4 435.4,622.0 436.0,621.5 436.5,621.1 437.0,620.6 437.5,620.2 437.9,619.9 438.2,619.7 437.2,617.9 436.8,618.0 436.3,618.2 435.8,618.4 435.1,618.6 434.5,618.8 433.8,619.0 433.2,619.2 432.6,619.3 432.0,619.5 431.3,619.8 430.6,620.1 430.1,620.3 429.7,620.4 429.7,620.4 430.4,620.5 431.2,621.2 431.4,621.6 431.4,621.3 431.5,620.7 431.7,619.9 431.9,618.9 432.1,617.8 432.4,616.6 432.6,615.5 432.8,614.3 433.0,612.9 433.2,611.5 433.4,610.0 433.7,608.6 433.9,607.4 434.0,606.3 434.2,605.5Z"/>
<path d="M429.24,605.13 a2.48,2.48 0 1,0 4.96,0 a2.48,2.48 0 1,0 -4.96,0Z"/>
<path d="M436.66,618.78 a1.02,1.02 0 1,0 2.04,0 a1.02,1.02 0 1,0 -2.04,0Z"/>
<path d="M431.3,594.4 431.5,594.6 431.7,594.9 431.9,595.3 432.2,595.6 432.4,596.0 432.7,596.4 432.9,596.6 433.0,596.8 436.0,594.1 435.8,593.9 435.5,593.7 435.2,593.4 434.8,593.1 434.5,592.9 434.2,592.6 433.9,592.4 433.7,592.2Z"/>
<path d="M430.91,593.33 a1.60,1.60 0 1,0 3.21,0 a1.60,1.60 0 1,0 -3.21,0Z"/>
<path d="M432.46,595.45 a2.04,2.04 0 1,0 4.08,0 a2.04,2.04 0 1,0 -4.08,0Z"/>
<path d="M463.6,586.1 463.6,585.8 463.7,585.4 463.9,584.8 464.0,584.1 464.2,583.3 464.2,582.4 464.2,581.4 464.0,580.5 463.6,579.6 463.2,578.9 462.6,578.1 462.0,577.4 461.3,576.8 460.4,576.2 459.2,575.8 457.8,575.8 456.7,576.2 455.8,576.8 455.1,577.4 454.5,578.2 453.9,579.1 453.3,580.0 452.8,581.1 452.2,582.3 451.7,583.6 451.2,585.1 450.6,586.7 450.1,588.5 449.6,590.3 449.1,592.1 448.6,594.0 448.1,595.8 447.7,597.8 447.2,599.7 446.7,601.8 446.2,603.9 445.8,606.0 445.3,608.0 444.9,610.0 444.5,611.9 444.2,613.7 443.8,615.5 443.5,617.2 443.2,618.8 442.9,620.5 442.7,622.1 442.4,623.7 442.2,625.3 441.9,626.9 441.6,628.5 441.4,630.2 441.1,631.8 440.9,633.4 440.7,634.9 440.6,636.2 440.6,637.5 440.6,638.6 440.8,639.6 441.0,640.4 441.3,641.2 441.6,641.7 441.9,642.2 442.1,642.5 442.3,642.8 444.0,642.5 444.0,642.1 444.0,641.6 444.0,641.1 444.0,640.6 444.1,640.0 444.1,639.3 444.2,638.6 444.3,637.7 444.5,636.7 444.7,635.4 445.0,634.0 445.2,632.5 445.5,630.9 445.8,629.3 446.1,627.7 446.5,626.1 446.8,624.5 447.1,622.9 447.5,621.4 447.8,619.8 448.2,618.1 448.6,616.4 449.0,614.7 449.4,612.9 449.8,611.1 450.3,609.1 450.8,607.1 451.2,605.0 451.7,603.0 452.2,601.0 452.7,599.0 453.2,597.2 453.7,595.3 454.2,593.5 454.7,591.7 455.2,589.9 455.7,588.3 456.2,586.8 456.6,585.4 457.1,584.3 457.5,583.3 457.9,582.4 458.3,581.8 458.6,581.2 458.9,580.9 459.1,580.7 459.1,580.6 458.9,580.6 458.5,580.6 458.3,580.6 458.5,580.6 458.8,580.8 459.1,581.2 459.5,581.5 459.8,581.9 459.9,582.1 460.0,582.2 460.0,582.5 460.1,582.9 460.0,583.5 460.0,584.1 459.9,584.7 459.8,585.2 459.8,585.7Z"/>
<path d="M459.78,585.91 a1.90,1.90 0 1,0 3.79,0 a1.90,1.90 0 1,0 -3.79,0Z"/>
<path d="M442.24,642.64 a0.87,0.87 0 1,0 1.75,0 a0.87,0.87 0 1,0 -1.75,0Z"/>
<path d="M440.1,614.9 440.9,614.8 442.0,614.6 443.4,614.5 444.8,614.3 446.4,614.1 448.0,613.9 449.5,613.7 451.0,613.5 452.3,613.3 453.8,613.1 455.2,612.9 456.6,612.6 458.0,612.4 459.3,612.2 460.5,612.0 461.6,611.8 462.6,611.6 463.5,611.4 464.4,611.3 465.2,611.1 465.9,611.0 466.6,610.9 467.1,610.8 467.5,610.7 466.9,607.0 466.5,607.0 466.0,607.1 465.3,607.2 464.6,607.3 463.8,607.4 462.9,607.5 462.0,607.6 461.0,607.7 459.9,607.9 458.6,608.1 457.3,608.2 456.0,608.4 454.6,608.6 453.1,608.8 451.7,609.0 450.4,609.2 449.0,609.4 447.4,609.6 445.9,609.8 444.3,609.9 442.8,610.1 441.5,610.3 440.4,610.4 439.5,610.5Z"/>
<path d="M437.62,612.68 a2.19,2.19 0 1,0 4.37,0 a2.19,2.19 0 1,0 -4.37,0Z"/>
<path d="M465.35,608.84 a1.90,1.90 0 1,0 3.79,0 a1.90,1.90 0 1,0 -3.79,0Z"/>
<path d="M467.0,611.7 467.4,611.6 468.0,611.5 468.8,611.4 469.7,611.2 470.6,611.0 471.6,610.7 472.5,610.3 473.4,609.7 474.1,608.9 474.6,608.0 474.9,607.2 475.1,606.4 475.3,605.7 475.3,605.1 475.3,604.7 475.4,604.4 471.1,601.9 470.8,602.2 470.4,602.6 469.9,602.9 469.5,603.2 469.1,603.5 468.7,603.8 468.4,603.9 468.3,604.0 468.1,604.3 467.7,604.7 467.3,605.3 466.7,605.8 466.2,606.4 465.7,607.0 465.2,607.5 464.9,607.9Z"/>
<path d="M463.73,609.77 a2.19,2.19 0 1,0 4.37,0 a2.19,2.19 0 1,0 -4.37,0Z"/>
<path d="M470.73,603.14 a2.48,2.48 0 1,0 4.96,0 a2.48,2.48 0 1,0 -4.96,0Z"/>
<path d="M471.4,600.3 470.9,600.6 470.3,600.9 469.5,601.3 468.6,601.8 467.6,602.4 466.6,603.0 465.7,603.9 464.8,604.8 464.2,605.8 463.6,606.7 463.1,607.8 462.7,608.9 462.3,610.0 462.0,611.2 461.8,612.3 461.7,613.5 461.7,614.7 461.7,615.8 461.8,617.0 462.0,618.2 462.3,619.3 462.7,620.4 463.1,621.5 463.7,622.4 464.4,623.3 465.2,624.0 466.1,624.6 467.0,625.0 467.9,625.3 468.8,625.5 469.7,625.5 470.6,625.5 471.7,625.2 472.6,624.8 473.4,624.3 474.2,623.7 474.9,623.1 475.5,622.6 476.0,622.2 476.3,621.9 475.4,620.1 474.9,620.3 474.3,620.5 473.6,620.7 472.8,620.9 472.0,621.1 471.3,621.2 470.8,621.2 470.5,621.1 470.1,621.0 469.7,620.9 469.3,620.7 469.0,620.5 468.7,620.3 468.4,620.1 468.3,619.9 468.1,619.6 468.0,619.3 467.8,618.7 467.7,618.0 467.6,617.2 467.5,616.4 467.4,615.5 467.4,614.7 467.5,614.0 467.6,613.3 467.8,612.6 468.0,611.8 468.3,611.0 468.6,610.2 469.0,609.4 469.3,608.7 469.6,608.1 470.0,607.6 470.4,607.0 470.9,606.3 471.5,605.6 472.2,604.9 472.8,604.3 473.3,603.7 473.7,603.3Z"/>
<path d="M470.65,601.81 a1.90,1.90 0 1,0 3.79,0 a1.90,1.90 0 1,0 -3.79,0Z"/>
<path d="M474.84,621.03 a1.02,1.02 0 1,0 2.04,0 a1.02,1.02 0 1,0 -2.04,0Z"/>
</g>
<g fill="#4e4e50">
<path d="M531.5,593.0 531.5,592.6 531.5,591.9 531.5,591.1 531.6,590.2 531.5,589.2 531.5,588.2 531.3,587.2 531.1,586.2 530.7,585.4 530.3,584.6 529.8,583.9 529.3,583.3 528.7,582.7 528.0,582.1 527.4,581.6 526.6,581.2 525.8,580.9 525.0,580.7 524.2,580.5 523.3,580.4 522.5,580.4 521.7,580.5 520.8,580.6 520.0,580.8 519.3,581.1 518.5,581.4 517.8,581.7 517.1,582.2 516.4,582.7 515.7,583.3 515.1,584.0 514.6,584.8 514.2,585.6 513.9,586.4 513.7,587.3 513.5,588.2 513.4,589.2 513.4,590.2 513.4,591.2 513.5,592.3 513.7,593.5 514.0,594.8 514.4,596.0 514.8,597.3 515.2,598.6 515.7,600.0 516.1,601.2 516.5,602.5 517.0,603.8 517.4,605.2 517.9,606.6 518.4,608.0 518.9,609.3 519.4,610.6 519.8,611.7 520.1,612.8 520.4,613.7 520.6,614.6 520.9,615.4 521.0,616.0 521.2,616.6 521.2,617.1 521.2,617.5 521.2,617.9 521.1,618.4 520.9,618.9 520.6,619.5 520.4,620.0 520.0,620.4 519.7,620.7 519.4,621.0 519.2,621.1 519.0,621.2 518.6,621.3 518.1,621.3 517.6,621.3 517.0,621.3 516.4,621.1 515.9,621.0 515.4,620.8 514.9,620.5 514.4,620.1 513.8,619.7 513.3,619.1 512.7,618.5 512.2,617.9 511.7,617.2 511.2,616.5 510.7,615.8 510.3,615.0 509.9,614.0 509.4,613.0 509.1,612.1 508.7,611.2 508.4,610.4 508.2,609.9 506.7,610.3 506.8,610.9 506.9,611.7 507.0,612.6 507.2,613.7 507.4,614.8 507.7,616.0 508.0,617.1 508.4,618.1 508.9,619.0 509.4,619.8 509.9,620.7 510.6,621.5 511.2,622.2 511.9,623.0 512.7,623.6 513.5,624.1 514.4,624.6 515.3,624.9 516.2,625.2 517.2,625.3 518.1,625.4 519.1,625.3 520.0,625.1 521.0,624.8 521.8,624.3 522.6,623.7 523.2,623.0 523.8,622.2 524.3,621.4 524.7,620.5 525.0,619.6 525.2,618.7 525.3,617.8 525.4,616.9 525.3,616.0 525.2,615.2 525.0,614.3 524.8,613.4 524.5,612.5 524.2,611.5 523.9,610.4 523.5,609.1 523.0,607.8 522.5,606.5 522.0,605.1 521.5,603.7 521.0,602.4 520.6,601.2 520.2,599.9 519.7,598.6 519.3,597.3 518.9,596.0 518.5,594.8 518.2,593.7 518.0,592.7 517.8,591.7 517.7,590.9 517.7,590.2 517.7,589.5 517.8,588.8 517.9,588.3 518.0,587.8 518.2,587.3 518.4,586.9 518.6,586.6 518.8,586.2 519.1,585.9 519.5,585.6 519.9,585.3 520.3,585.1 520.8,584.9 521.2,584.7 521.6,584.6 522.1,584.5 522.6,584.5 523.1,584.5 523.6,584.6 524.1,584.7 524.5,584.8 524.9,584.9 525.3,585.1 525.7,585.3 526.1,585.6 526.5,586.0 526.8,586.3 527.2,586.7 527.5,587.1 527.7,587.5 527.9,588.0 528.0,588.6 528.1,589.4 528.2,590.3 528.2,591.1 528.2,591.9 528.3,592.6 528.3,593.1Z"/>
<path d="M528.31,593.07 a1.59,1.59 0 1,0 3.18,0 a1.59,1.59 0 1,0 -3.18,0Z"/>
<path d="M506.63,610.08 a0.79,0.79 0 1,0 1.59,0 a0.79,0.79 0 1,0 -1.59,0Z"/>
<path d="M539.0,582.7 538.9,583.4 538.7,584.4 538.4,585.4 538.2,586.7 537.9,588.0 537.6,589.4 537.3,590.7 537.0,592.1 536.6,593.5 536.3,595.0 536.0,596.6 535.6,598.2 535.2,599.8 534.9,601.4 534.6,603.0 534.3,604.4 534.0,605.8 533.7,607.2 533.4,608.6 533.2,609.9 532.9,611.2 532.7,612.4 532.5,613.7 532.3,614.9 532.2,616.1 532.0,617.3 531.9,618.5 531.9,619.7 531.8,620.7 531.8,621.7 531.7,622.5 531.7,623.1 535.3,623.5 535.4,622.9 535.6,622.1 535.7,621.2 535.9,620.1 536.1,619.0 536.3,617.9 536.6,616.7 536.8,615.6 537.0,614.5 537.3,613.3 537.5,612.1 537.8,610.8 538.1,609.5 538.3,608.2 538.6,606.8 538.9,605.4 539.2,603.9 539.5,602.4 539.9,600.8 540.2,599.2 540.5,597.6 540.8,596.0 541.1,594.4 541.4,593.0 541.6,591.6 541.9,590.2 542.1,588.8 542.3,587.4 542.4,586.2 542.6,585.1 542.7,584.1 542.8,583.4Z"/>
<path d="M539.00,583.07 a1.93,1.93 0 1,0 3.86,0 a1.93,1.93 0 1,0 -3.86,0Z"/>
<path d="M531.69,623.28 a1.81,1.81 0 1,0 3.63,0 a1.81,1.81 0 1,0 -3.63,0Z"/>
<path d="M532.0,613.1 532.5,613.0 533.2,612.9 534.0,612.7 535.0,612.5 535.9,612.3 536.9,612.1 537.9,611.8 538.8,611.5 539.6,611.3 540.4,611.0 541.2,610.7 542.0,610.3 542.7,610.0 543.5,609.7 544.2,609.3 544.9,608.9 545.7,608.5 546.5,608.0 547.4,607.4 548.2,606.9 548.9,606.4 549.6,605.9 550.2,605.5 550.6,605.2 550.4,604.6 549.9,604.7 549.2,604.8 548.4,604.8 547.4,605.0 546.5,605.1 545.5,605.2 544.6,605.3 543.7,605.5 542.9,605.6 542.1,605.8 541.3,606.0 540.6,606.2 539.8,606.4 539.0,606.6 538.3,606.8 537.5,607.0 536.7,607.2 535.8,607.4 534.8,607.7 533.9,607.9 533.0,608.2 532.1,608.4 531.4,608.6 530.9,608.7Z"/>
<path d="M529.18,610.91 a2.27,2.27 0 1,0 4.54,0 a2.27,2.27 0 1,0 -4.54,0Z"/>
<path d="M550.18,604.93 a0.34,0.34 0 1,0 0.68,0 a0.34,0.34 0 1,0 -0.68,0Z"/>
</g>
<g fill="#4e4e50">
<path d="M560.0,601.8 559.6,602.1 559.1,602.4 558.5,602.9 557.7,603.5 556.9,604.1 556.0,604.9 555.2,605.7 554.4,606.5 553.5,607.5 552.7,608.6 551.8,609.7 550.9,610.9 550.1,612.1 549.3,613.2 548.5,614.3 547.9,615.3 547.4,616.2 546.9,617.0 546.5,617.9 546.1,618.7 545.8,619.5 545.6,620.3 545.4,621.2 545.5,622.3 545.9,623.3 546.5,624.2 547.3,624.8 548.2,625.3 549.1,625.6 550.2,625.7 551.3,625.5 552.3,625.0 553.1,624.4 553.9,623.7 554.6,622.9 555.3,622.1 556.0,621.1 556.7,620.1 557.4,619.1 558.0,618.1 558.7,616.9 559.4,615.6 560.1,614.3 560.8,612.9 561.4,611.5 562.0,610.3 562.4,609.3 562.8,608.6 559.6,607.1 559.3,607.9 558.8,608.9 558.3,610.1 557.7,611.4 557.0,612.7 556.4,614.0 555.7,615.2 555.1,616.2 554.5,617.1 553.8,617.9 553.1,618.8 552.4,619.5 551.7,620.1 551.1,620.7 550.6,621.0 550.3,621.2 550.2,621.1 550.2,621.1 550.2,621.0 550.2,621.0 550.2,621.0 550.2,620.9 550.3,621.0 550.4,621.3 550.4,621.4 550.4,621.3 550.5,621.0 550.6,620.5 550.9,619.9 551.2,619.2 551.5,618.5 552.0,617.6 552.5,616.7 553.1,615.7 553.8,614.5 554.5,613.4 555.3,612.2 556.1,611.1 556.8,610.1 557.5,609.2 558.1,608.5 558.8,607.8 559.5,607.1 560.2,606.5 560.8,606.0 561.4,605.5 562.0,605.0 562.4,604.7Z"/>
<path d="M559.31,603.22 a1.90,1.90 0 1,0 3.79,0 a1.90,1.90 0 1,0 -3.79,0Z"/>
<path d="M559.46,607.86 a1.75,1.75 0 1,0 3.50,0 a1.75,1.75 0 1,0 -3.50,0Z"/>
<path d="M561.4,603.1 561.3,603.8 561.2,604.9 561.1,606.1 561.0,607.5 560.9,608.9 560.7,610.3 560.6,611.7 560.5,612.9 560.3,614.0 560.2,615.2 559.9,616.4 559.7,617.6 559.6,618.8 559.4,620.0 559.4,621.1 559.6,622.3 560.0,623.4 560.6,624.3 561.4,624.9 562.3,625.4 563.1,625.6 563.9,625.7 564.6,625.7 565.3,625.7 566.1,625.5 567.0,625.2 567.8,624.8 568.5,624.4 569.2,624.0 569.8,623.7 570.2,623.4 570.5,623.2 569.1,620.3 568.7,620.5 568.2,620.8 567.6,621.1 566.9,621.4 566.3,621.6 565.7,621.8 565.3,621.9 565.1,621.9 564.8,621.8 564.5,621.7 564.2,621.6 564.1,621.5 564.1,621.4 564.1,621.4 564.2,621.4 564.2,621.3 564.1,620.9 564.2,620.3 564.3,619.4 564.4,618.3 564.6,617.2 564.8,615.9 565.0,614.7 565.1,613.4 565.2,612.1 565.3,610.7 565.4,609.3 565.5,607.8 565.6,606.4 565.7,605.2 565.7,604.2 565.8,603.4Z"/>
<path d="M561.41,603.22 a2.19,2.19 0 1,0 4.37,0 a2.19,2.19 0 1,0 -4.37,0Z"/>
<path d="M568.22,621.78 a1.60,1.60 0 1,0 3.21,0 a1.60,1.60 0 1,0 -3.21,0Z"/>
<path d="M583.9,601.5 583.5,601.8 583.0,602.0 582.4,602.4 581.6,602.9 580.7,603.4 579.8,604.0 578.9,604.8 578.0,605.6 577.2,606.6 576.3,607.6 575.4,608.8 574.6,609.9 573.7,611.1 572.9,612.3 572.2,613.4 571.5,614.5 571.0,615.5 570.4,616.5 569.8,617.5 569.3,618.4 568.9,619.4 568.5,620.4 568.2,621.3 568.1,622.5 568.4,623.7 569.0,624.8 569.9,625.6 570.9,626.1 572.0,626.3 573.0,626.3 574.1,626.0 575.0,625.5 575.8,624.8 576.6,624.1 577.3,623.2 577.9,622.3 578.6,621.3 579.3,620.3 580.0,619.2 580.7,618.2 581.4,617.0 582.2,615.8 582.9,614.4 583.7,613.0 584.5,611.7 585.1,610.5 585.7,609.5 586.1,608.8 582.7,606.9 582.3,607.7 581.8,608.7 581.2,609.9 580.5,611.2 579.7,612.5 578.9,613.9 578.2,615.1 577.5,616.1 576.8,617.0 576.1,617.9 575.4,618.8 574.7,619.6 574.0,620.4 573.4,620.9 572.9,621.3 572.6,621.5 572.5,621.5 572.4,621.5 572.5,621.4 572.6,621.4 572.8,621.5 573.1,621.7 573.3,622.1 573.4,622.4 573.4,622.5 573.5,622.1 573.8,621.5 574.1,620.8 574.5,619.9 575.0,619.0 575.5,618.1 576.1,617.2 576.6,616.2 577.3,615.1 578.0,613.9 578.7,612.7 579.5,611.6 580.2,610.5 580.9,609.6 581.5,608.8 582.1,608.1 582.7,607.5 583.3,607.0 584.0,606.5 584.6,606.0 585.2,605.6 585.8,605.2 586.2,604.9Z"/>
<path d="M583.03,603.22 a2.04,2.04 0 1,0 4.08,0 a2.04,2.04 0 1,0 -4.08,0Z"/>
<path d="M582.51,607.86 a1.90,1.90 0 1,0 3.79,0 a1.90,1.90 0 1,0 -3.79,0Z"/>
<path d="M584.3,603.4 584.3,604.3 584.2,605.4 584.0,606.7 583.9,608.2 583.8,609.8 583.6,611.3 583.5,612.8 583.3,614.2 583.1,615.4 582.9,616.7 582.6,618.0 582.4,619.2 582.1,620.5 581.9,621.8 581.6,623.2 581.3,624.6 581.0,626.0 580.7,627.5 580.4,629.0 580.0,630.6 579.7,632.1 579.4,633.7 579.1,635.2 578.8,636.5 578.6,637.9 578.3,639.2 578.0,640.4 577.8,641.7 577.6,642.9 577.5,644.1 577.4,645.3 577.5,646.4 577.7,647.5 578.1,648.5 578.7,649.3 579.2,650.0 579.8,650.5 580.2,650.8 580.6,651.1 580.8,651.3 582.7,650.0 582.6,649.6 582.3,649.2 582.1,648.7 581.8,648.2 581.7,647.7 581.6,647.2 581.5,646.7 581.5,646.2 581.6,645.5 581.7,644.7 581.9,643.7 582.2,642.6 582.5,641.4 582.8,640.1 583.1,638.8 583.4,637.5 583.7,636.1 584.0,634.7 584.4,633.2 584.8,631.7 585.1,630.1 585.5,628.6 585.8,627.1 586.2,625.6 586.5,624.2 586.8,622.9 587.0,621.5 587.3,620.2 587.5,618.9 587.8,617.5 588.0,616.2 588.2,614.8 588.4,613.3 588.5,611.8 588.6,610.2 588.7,608.6 588.8,607.1 588.9,605.7 588.9,604.6 589.0,603.8Z"/>
<path d="M584.33,603.62 a2.33,2.33 0 1,0 4.67,0 a2.33,2.33 0 1,0 -4.67,0Z"/>
<path d="M580.59,650.68 a1.17,1.17 0 1,0 2.33,0 a1.17,1.17 0 1,0 -2.33,0Z"/>
<path d="M606.3,602.2 606.2,602.1 605.9,601.8 605.5,601.4 605.0,601.0 604.3,600.5 603.4,600.0 602.3,599.7 601.0,599.8 600.0,600.2 599.2,600.6 598.3,601.2 597.5,601.8 596.7,602.5 595.9,603.3 595.2,604.1 594.5,605.0 593.9,605.9 593.3,607.0 592.8,608.1 592.2,609.2 591.8,610.4 591.3,611.5 591.0,612.7 590.7,613.8 590.5,614.8 590.3,615.9 590.2,616.9 590.2,618.0 590.2,619.1 590.3,620.2 590.6,621.2 591.0,622.3 591.6,623.3 592.2,624.1 593.0,624.9 593.8,625.6 594.7,626.3 595.7,626.8 596.8,627.1 598.1,627.3 599.4,627.2 600.6,626.8 601.7,626.3 602.7,625.7 603.7,625.2 604.5,624.6 605.2,624.2 605.7,623.9 604.8,621.5 604.1,621.6 603.3,621.8 602.4,622.0 601.4,622.3 600.4,622.4 599.5,622.5 598.9,622.5 598.6,622.4 598.4,622.2 598.0,622.0 597.7,621.7 597.3,621.4 597.0,621.0 596.7,620.6 596.5,620.2 596.4,619.9 596.3,619.6 596.2,619.2 596.2,618.7 596.2,618.1 596.3,617.5 596.4,616.7 596.5,616.0 596.7,615.2 596.9,614.4 597.2,613.5 597.5,612.5 597.9,611.6 598.3,610.6 598.7,609.7 599.1,608.8 599.5,608.1 599.8,607.4 600.3,606.7 600.7,606.0 601.1,605.4 601.6,604.8 601.9,604.4 602.2,604.1 602.2,604.0 602.0,604.0 601.8,603.9 601.9,604.0 602.2,604.2 602.5,604.5 602.9,604.9 603.2,605.3 603.6,605.6Z"/>
<path d="M602.77,603.88 a2.19,2.19 0 1,0 4.37,0 a2.19,2.19 0 1,0 -4.37,0Z"/>
<path d="M603.91,622.71 a1.31,1.31 0 1,0 2.62,0 a1.31,1.31 0 1,0 -2.62,0Z"/>
<path d="M600.7,612.0 601.0,611.7 601.4,611.2 601.9,610.6 602.4,610.0 603.0,609.5 603.5,608.9 603.9,608.4 604.2,608.1 600.4,603.6 600.1,603.9 599.5,604.2 598.9,604.6 598.2,605.0 597.5,605.4 596.9,605.8 596.4,606.2 596.0,606.4Z"/>
<path d="M594.68,609.19 a3.65,3.65 0 1,0 7.29,0 a3.65,3.65 0 1,0 -7.29,0Z"/>
<path d="M599.38,605.87 a2.92,2.92 0 1,0 5.83,0 a2.92,2.92 0 1,0 -5.83,0Z"/>
<path d="M623.9,603.9 623.9,603.5 624.0,603.0 624.0,602.4 624.0,601.6 623.9,600.9 623.9,600.1 623.7,599.3 623.2,598.2 622.1,597.4 621.1,597.0 620.0,597.0 619.0,597.3 618.2,597.7 617.5,598.4 616.9,599.2 616.5,600.1 616.3,601.0 616.2,601.9 616.2,602.8 616.1,603.8 616.1,604.8 616.1,605.8 616.2,606.8 616.1,607.8 616.1,608.9 616.1,610.0 616.2,611.2 616.2,612.4 616.2,613.6 616.2,614.8 616.1,615.9 616.0,616.9 615.9,618.0 615.8,619.1 615.6,620.2 615.5,621.3 615.3,622.2 615.1,623.0 614.9,623.6 614.7,624.0 614.6,624.1 614.6,624.2 614.5,624.2 614.5,624.3 614.3,624.3 614.1,624.3 613.9,624.3 613.6,624.2 613.4,624.2 613.1,624.0 612.7,623.8 612.3,623.4 611.8,623.0 611.4,622.5 610.9,622.1 610.6,621.7 610.3,621.2 610.0,620.6 609.6,620.0 609.3,619.3 609.1,618.6 608.8,617.9 608.6,617.3 608.5,616.9 606.8,617.4 606.8,617.8 606.9,618.3 606.9,619.1 607.0,619.9 607.1,620.7 607.3,621.6 607.5,622.4 607.8,623.2 608.2,624.0 608.6,624.6 609.1,625.3 609.6,626.0 610.1,626.6 610.8,627.2 611.4,627.7 612.2,628.1 612.9,628.3 613.7,628.5 614.5,628.5 615.3,628.4 616.2,628.2 617.1,627.7 617.9,627.0 618.5,626.2 619.0,625.2 619.3,624.2 619.6,623.1 619.8,622.0 620.0,620.8 620.1,619.7 620.3,618.5 620.4,617.4 620.5,616.2 620.6,614.9 620.6,613.7 620.6,612.5 620.7,611.2 620.7,610.1 620.7,609.0 620.8,607.9 620.9,606.9 621.0,605.9 621.0,604.9 621.1,604.0 621.2,603.2 621.3,602.5 621.4,602.0 621.5,601.8 621.5,601.8 621.4,601.9 621.3,602.1 621.1,602.2 620.7,602.3 620.2,602.3 619.7,602.1 619.1,601.6 618.9,601.2 619.0,601.3 619.2,601.7 619.3,602.3 619.5,602.9 619.7,603.5 619.8,604.0 619.9,604.4Z"/>
<path d="M619.88,604.15 a2.04,2.04 0 1,0 4.08,0 a2.04,2.04 0 1,0 -4.08,0Z"/>
<path d="M606.73,617.14 a0.87,0.87 0 1,0 1.75,0 a0.87,0.87 0 1,0 -1.75,0Z"/>
</g>
</svg>
</body>
</html>
